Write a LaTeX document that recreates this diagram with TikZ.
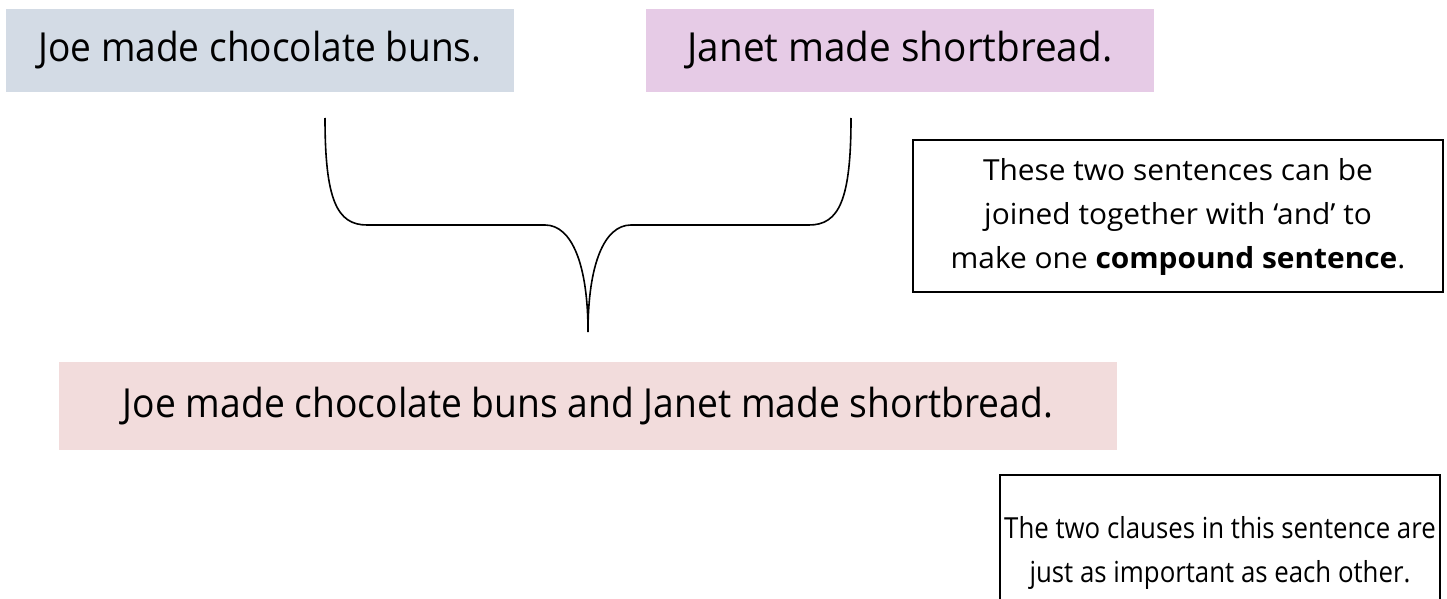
\documentclass[tikz,border=0pt]{standalone}
\usepackage{fontspec}
\setmainfont{Open Sans}
\usepackage{graphicx}
\definecolor{boxblue}{RGB}{211,219,229}
\definecolor{boxlilac}{RGB}{230,203,230}
\definecolor{boxpink}{RGB}{242,220,220}

\begin{document}
\begin{tikzpicture}[x=1pt,y=-1pt,
  sentence/.style={inner sep=0pt, text=black, font=\fontsize{40}{48}\selectfont},
  note/.style={draw=black, line width=2pt, inner sep=0pt, align=center,
    font=\fontsize{29}{44}\selectfont},
  brace/.style={draw=black, line width=1.6pt}]
\useasboundingbox (0,0) rectangle (1447,599);
\clip (0,0) rectangle (1447,599);

% the two simple sentences
\node[sentence, fill=boxblue, minimum width=508pt, minimum height=83pt] (joe) at (260,50.5)
  {\resizebox{443pt}{\height}{Joe made chocolate buns.}};
\node[sentence, fill=boxlilac, minimum width=508pt, minimum height=83pt] (janet) at (900,50.5)
  {\resizebox{425pt}{\height}{Janet made shortbread.}};

% the joined compound sentence
\node[sentence, fill=boxpink, minimum width=1058pt, minimum height=88pt] (both) at (588,406)
  {\resizebox{930pt}{\height}{Joe made chocolate buns and Janet made shortbread.}};

% explanatory notes
\node[note, minimum width=530pt, minimum height=152pt] (compound) at (1178,216)
  {\scalebox{1.03}[1]{\begin{tabular}{@{}c@{}}These two sentences can be\\ joined together with ‘and’ to\\ make one \textbf{compound sentence}.\end{tabular}}};
\node[note, minimum width=440pt, minimum height=154pt] (clauses) at (1220,552)
  {\scalebox{0.89}[1]{\begin{tabular}{@{}c@{}}The two clauses in this sentence are\\ just as important as each other.\end{tabular}}};

% brace joining the two sentences
\coordinate (armL) at (325,118);
\coordinate (armR) at (851,118);
\coordinate (tip) at (588,332);
\draw[brace] (armL) .. controls (325,200) and (337,225) .. (367,225)
  -- (545,225) .. controls (572,225) and (588,265) .. (tip)
  .. controls (588,265) and (604,225) .. (631,225)
  -- (809,225) .. controls (839,225) and (851,200) .. (armR);
\end{tikzpicture}
\end{document}
